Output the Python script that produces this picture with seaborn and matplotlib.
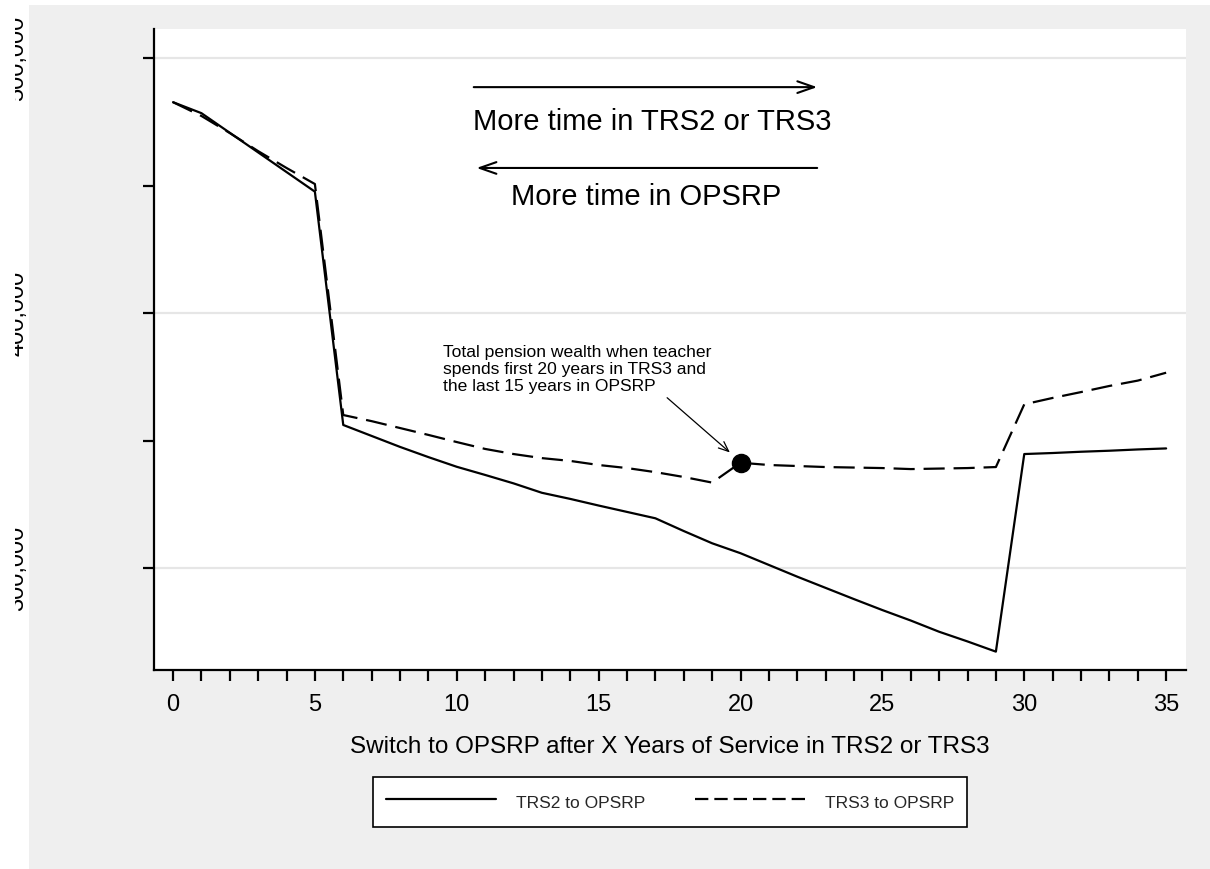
import numpy as np
import pandas as pd
import matplotlib
matplotlib.use("Agg")
import matplotlib.pyplot as plt
import seaborn as sns
from matplotlib.ticker import MultipleLocator, FuncFormatter, FixedLocator
from matplotlib.patches import Rectangle
from matplotlib.transforms import Bbox, TransformedBbox
from matplotlib.lines import Line2D

years = list(range(0, 36))
trs2 = [482700, 478400, 470700, 463000, 455300, 447600, 356100, 351800, 347500, 343500,
        339700, 336500, 333200, 329500, 327100, 324500, 322000, 319500, 314500, 309700,
        305800, 301200, 296600, 292200, 287800, 283500, 279400, 275000, 271200, 267200,
        344700, 345100, 345600, 346000, 346500, 346900]
trs3 = [482700, 477300, 470600, 463500, 456900, 450600, 360000, 357600, 354900, 352200,
        349400, 346700, 344700, 343100, 342000, 340400, 339200, 337600, 335700, 333500,
        341300, 340400, 340000, 339600, 339400, 339200, 338800, 339000, 339200, 339600,
        364200, 366700, 369000, 371400, 373500, 376600]
series_names = ["TRS2 to OPSRP", "TRS3 to OPSRP"]
y_ticks = [300000, 350000, 400000, 450000, 500000]
y_labeled = [300000, 400000, 500000]
highlight_year = 20

df = pd.DataFrame({
    "year": years * 2,
    "wealth": trs2 + trs3,
    "plan": [series_names[0]] * len(years) + [series_names[1]] * len(years),
})

sns.set_theme(style="white")
plt.rcParams["font.family"] = ["Liberation Sans", "DejaVu Sans"]

W, H = 1210, 869
fig = plt.figure(figsize=(W / 100, H / 100), dpi=100, facecolor="white")
fig.patches.append(Rectangle((29 / W, 0), 1 - 29 / W, 1 - 5 / H,
                             transform=fig.transFigure, facecolor="#efefef",
                             edgecolor="none", zorder=-10))
ax = fig.add_axes([154 / W, 1 - 670 / H, (1186 - 154) / W, (670 - 29) / H])
ax.set_facecolor("white")

sns.lineplot(data=df, x="year", y="wealth", style="plan", ax=ax,
             color="black", linewidth=1.6,
             dashes={series_names[0]: "", series_names[1]: (9.5, 4)},
             legend=False)

ax.set_xlim(-0.67, 35.7)
ax.set_ylim(260000, 511400)

for v in y_labeled:
    ax.axhline(v, color="#e6e6e6", lw=1.6, zorder=0)

ax.scatter([highlight_year], [trs3[years.index(highlight_year)]], s=170, color="black", zorder=5)

for s in ["top", "right"]:
    ax.spines[s].set_visible(False)
for s in ["left", "bottom"]:
    ax.spines[s].set_color("black")
    ax.spines[s].set_linewidth(1.6)

ax.xaxis.set_major_locator(MultipleLocator(1))
ax.xaxis.set_major_formatter(FuncFormatter(lambda v, p: f"{int(round(v))}" if int(round(v)) % 5 == 0 else ""))
ax.yaxis.set_major_locator(FixedLocator(y_ticks))
ax.yaxis.set_major_formatter(FuncFormatter(lambda v, p: f"{int(v):,}" if int(v) in y_labeled else ""))
ax.tick_params(axis="x", bottom=True, direction="out", length=8, width=1.6,
               colors="black", labelsize=17, pad=9)
ax.tick_params(axis="y", left=True, direction="out", length=8, width=1.6,
               colors="black", labelsize=17, pad=82.5, labelrotation=90)
for lab in ax.get_yticklabels():
    lab.set_va("center")

ax.set_xlabel("Switch to OPSRP after X Years of Service in TRS2 or TRS3", fontsize=17.5,
              labelpad=15, color="black")
ax.set_ylabel("")

# direction arrows
ax.annotate("", xy=(22.8, 488600), xytext=(10.5, 488600),
            arrowprops=dict(arrowstyle="->,head_length=1.0,head_width=0.35", color="black", lw=1.5))
ax.text(16.9, 471800, "More time in TRS2 or TRS3", fontsize=21, ha="center", va="baseline", color="black")
ax.annotate("", xy=(10.6, 456900), xytext=(22.8, 456900),
            arrowprops=dict(arrowstyle="->,head_length=1.0,head_width=0.35", color="black", lw=1.5))
ax.text(16.68, 442400, "More time in OPSRP", fontsize=21, ha="center", va="baseline", color="black")

# annotation
ax.text(9.52, 387300, "Total pension wealth when teacher\nspends first 20 years in TRS3 and\nthe last 15 years in OPSRP",
        fontsize=12.6, ha="left", va="top", linespacing=1.13, color="black")
ax.annotate("", xy=(19.7, 344600), xytext=(17.34, 367500),
            arrowprops=dict(arrowstyle="->,head_length=0.6,head_width=0.25", color="black", lw=0.9))

# legend
handles = [Line2D([], [], color="black", lw=1.6),
           Line2D([], [], color="black", lw=1.6, dashes=(6, 2.7))]
leg = fig.legend(handles, series_names, loc="center", bbox_to_anchor=(670 / W, 1 - 802 / H),
                 ncol=2, frameon=True, fancybox=False, fontsize=12.5, handlelength=6.3,
                 columnspacing=2.9, handletextpad=1.15, borderpad=0.75, handleheight=1.7,
                 borderaxespad=0, framealpha=1)
leg.get_frame().set_edgecolor("black")
leg.get_frame().set_linewidth(1.2)
leg.get_frame().set_facecolor("white")

# y tick labels are cut at the left edge in the reference
fig.canvas.draw()
clip = TransformedBbox(Bbox([[15 / W, 0], [1, 1]]), fig.transFigure)
for lab in ax.get_yticklabels():
    lab.set_clip_box(clip)
    lab.set_clip_on(True)

fig.savefig("out.png", dpi=100, facecolor=fig.get_facecolor())
